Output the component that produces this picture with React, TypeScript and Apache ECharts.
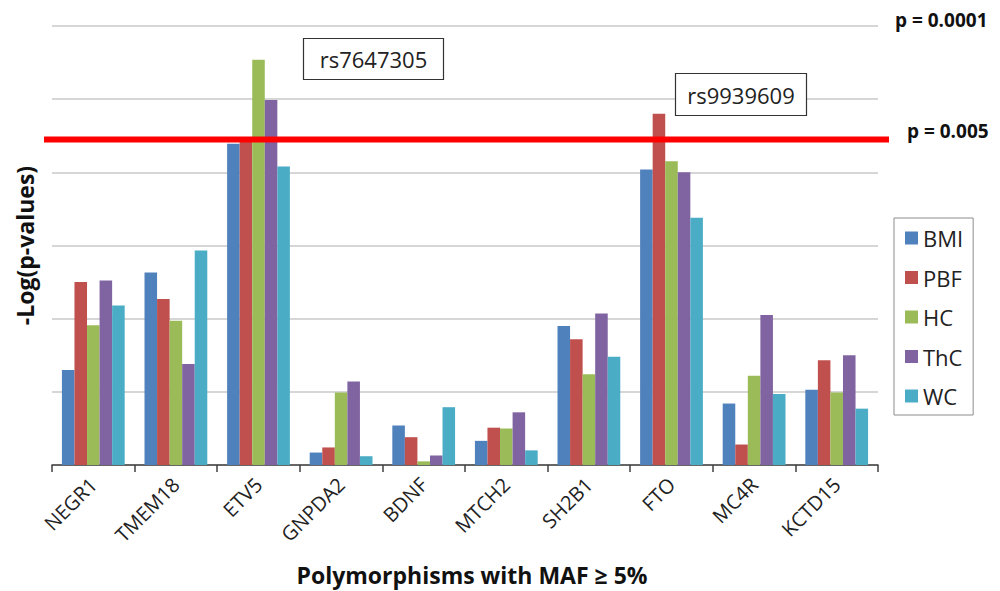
import React, { useEffect, useRef } from "react";
import * as echarts from "echarts";

const genes = ["NEGR1", "TMEM18", "ETV5", "GNPDA2", "BDNF", "MTCH2", "SH2B1", "FTO", "MC4R", "KCTD15"];
const bmi = [1.30, 2.63, 4.39, 0.17, 0.54, 0.33, 1.90, 4.04, 0.84, 1.03];
const pbf = [2.50, 2.27, 4.42, 0.24, 0.38, 0.51, 1.72, 4.80, 0.28, 1.43];
const hc = [1.91, 1.97, 5.54, 0.99, 0.05, 0.50, 1.24, 4.15, 1.22, 0.99];
const thc = [2.52, 1.38, 4.99, 1.14, 0.13, 0.72, 2.07, 4.00, 2.05, 1.50];
const wc = [2.18, 2.93, 4.08, 0.12, 0.79, 0.20, 1.48, 3.38, 0.97, 0.77];
const seriesNames = ["BMI", "PBF", "HC", "ThC", "WC"];
const seriesColors = ["#4F81BD", "#C0504D", "#9BBB59", "#8064A2", "#4BACC6"];
const threshold = 4.45;
const yMax = 6;
const annotations = ["rs7647305", "rs9939609"];
const pLabels = ["p = 0.0001", "p = 0.005"];

const FONT = "'Open Sans', 'Liberation Sans', sans-serif";

export default function App() {
  const ref = useRef<HTMLDivElement>(null);
  useEffect(() => {
    document.body.style.margin = "0";
    const chart = echarts.init(ref.current!, null, { renderer: "svg" });
    const data = [bmi, pbf, hc, thc, wc];
    chart.setOption({
      animation: false,
      backgroundColor: "#ffffff",
      grid: { left: 52, right: 122, top: 26, bottom: 124, containLabel: false },
      legend: {
        orient: "vertical",
        left: 894,
        top: 218,
        padding: [9, 10, 8, 11],
        itemWidth: 13,
        itemHeight: 13,
        itemGap: 17.5,
        icon: "rect",
        borderColor: "#8c8c8c",
        borderWidth: 1,
        backgroundColor: "#ffffff",
        textStyle: { fontFamily: FONT, fontSize: 22, color: "#222" },
        data: seriesNames,
      },
      xAxis: {
        type: "category",
        data: genes,
        axisLine: { lineStyle: { color: "#404040", width: 1.5 } },
        axisTick: { show: true, length: 7, lineStyle: { color: "#404040", width: 1.5 } },
        axisLabel: { rotate: 45, fontFamily: FONT, fontSize: 20, color: "#222", margin: 16 },
        name: "Polymorphisms with MAF \u2265 5%",
        nameLocation: "middle",
        nameGap: 98,
        nameTextStyle: { fontFamily: FONT, fontSize: 23, fontWeight: "bold", color: "#111", padding: [0, 0, 0, 14] },
      },
      yAxis: {
        type: "value",
        min: 0,
        max: yMax,
        interval: 1,
        axisLabel: { show: false },
        axisLine: { show: false },
        axisTick: { show: false },
        splitLine: { lineStyle: { color: "#c8c8c8", width: 1.5 } },
        name: "-Log(p-values)",
        nameLocation: "middle",
        nameGap: 16,
        nameTextStyle: { fontFamily: FONT, fontSize: 23, fontWeight: "bold", color: "#111" },
      },
      series: seriesNames.map((n, i) => ({
        name: n,
        type: "bar",
        data: data[i],
        barGap: "0%",
        barCategoryGap: "24%",
        itemStyle: { color: seriesColors[i] },
      })),
    });
    const yT = chart.convertToPixel({ yAxisIndex: 0 }, threshold) as number;
    const yTop = chart.convertToPixel({ yAxisIndex: 0 }, yMax) as number;
    chart.setOption({
      graphic: [
        {
          type: "line",
          z: 100,
          shape: { x1: 44, y1: yT, x2: 889, y2: yT },
          style: { stroke: "#ff0000", lineWidth: 6 },
        },
        {
          type: "text",
          z: 100,
          x: 895,
          y: yTop - 6,
          style: { text: pLabels[0], fontFamily: FONT, fontSize: 19, fontWeight: "bold", fill: "#111", verticalAlign: "middle" },
        },
        {
          type: "text",
          z: 100,
          x: 907,
          y: yT - 8,
          style: { text: pLabels[1], fontFamily: FONT, fontSize: 19, fontWeight: "bold", fill: "#111", verticalAlign: "middle" },
        },
        {
          type: "rect",
          z: 100,
          shape: { x: 303.5, y: 38.5, width: 140, height: 41 },
          style: { fill: "#ffffff", stroke: "#333", lineWidth: 1.2 },
        },
        {
          type: "text",
          z: 101,
          x: 373.5,
          y: 59,
          style: { text: annotations[0], fontFamily: FONT, fontSize: 22, fill: "#222", align: "center", verticalAlign: "middle" },
        },
        {
          type: "rect",
          z: 100,
          shape: { x: 675.5, y: 73.5, width: 131, height: 42 },
          style: { fill: "#ffffff", stroke: "#333", lineWidth: 1.2 },
        },
        {
          type: "text",
          z: 101,
          x: 741,
          y: 95,
          style: { text: annotations[1], fontFamily: FONT, fontSize: 22, fill: "#222", align: "center", verticalAlign: "middle" },
        },
      ],
    });
    return () => chart.dispose();
  }, []);
  return <div ref={ref} style={{ width: 1000, height: 591 }} />;
}
